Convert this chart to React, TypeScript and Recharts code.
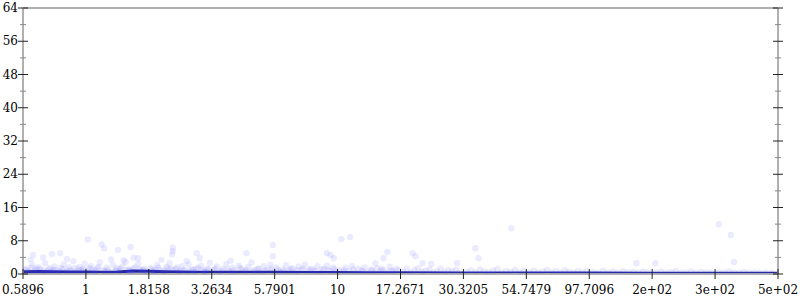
import React from "react";
import { ComposedChart, Scatter, Line, XAxis, YAxis, ReferenceLine } from "recharts";

const xTickLabels = ["0.5896", "1", "1.8158", "3.2634", "5.7901", "10", "17.2671", "30.3205", "54.7479", "97.7096", "2e+02", "3e+02", "5e+02"];
const xTickPositions = [0, 1, 2, 3, 4, 5, 6, 7, 8, 9, 10, 11, 12];
const yTicks = [0, 4, 8, 12, 16, 20, 24, 28, 32, 36, 40, 44, 48, 52, 56, 60, 64];

// scatter cloud: [position along the axis (tick index units), value]
const cloud: [number, number][] = [
  [0.05,1.2],[0.1,0.4],[0.15,2.1],[0.2,0.9],[0.25,1.6],[0.3,0.3],[0.35,2.6],[0.4,1.1],[0.45,0.6],[0.5,1.8],
  [0.55,0.2],[0.6,1.4],[0.65,2.3],[0.7,0.8],[0.75,1.0],[0.8,3.1],[0.85,0.5],[0.9,1.7],[0.95,1.2],[0.98,2.5],
  [0.16,4.6],[0.32,4.0],[0.46,4.8],[0.59,5.0],[0.12,3.4],[0.7,3.6],
  [0.08,0.7],[0.22,1.3],[0.38,0.5],[0.52,1.0],[0.68,0.4],[0.82,1.4],[0.92,0.8],
  [0.03,0.9],[0.13,1.5],[0.18,0.6],[0.28,1.1],[0.33,0.8],[0.43,1.4],[0.48,0.9],[0.58,0.7],[0.63,1.2],[0.73,1.6],[0.78,0.6],[0.88,1.1],[0.97,0.9],
  [1.02,0.7],[1.08,1.9],[1.12,0.3],[1.18,1.3],[1.22,2.8],[1.28,0.9],[1.33,1.5],[1.38,0.4],[1.43,2.2],[1.48,1.0],
  [1.53,0.6],[1.58,1.8],[1.63,2.9],[1.68,1.1],[1.73,0.5],[1.78,1.6],[1.83,2.4],[1.88,0.8],[1.93,1.3],[1.97,0.2],
  [1.03,8.3],[1.25,7.1],[1.29,6.2],[1.51,5.8],[1.71,6.5],[1.76,4.0],[1.83,3.8],[1.4,3.5],[1.6,3.3],
  [1.1,1.1],[1.3,0.6],[1.5,1.4],[1.7,0.8],[1.9,1.0],
  [1.05,1.4],[1.15,0.8],[1.2,1.7],[1.35,1.0],[1.45,0.7],[1.55,1.2],[1.65,0.9],[1.75,1.3],[1.85,1.1],[1.95,0.7],
  [2.03,1.4],[2.08,0.6],[2.13,2.2],[2.18,1.0],[2.23,0.3],[2.28,1.7],[2.33,2.6],[2.38,0.9],[2.43,1.2],[2.48,0.5],
  [2.53,1.9],[2.58,0.8],[2.63,2.3],[2.68,1.1],[2.73,0.4],[2.78,1.5],[2.83,2.0],[2.88,0.7],[2.93,1.3],[2.97,2.7],
  [2.38,6.3],[2.38,5.5],[2.37,4.7],[2.76,5.0],[2.81,3.8],[2.2,3.4],[2.6,3.1],
  [2.1,0.9],[2.3,1.2],[2.5,0.7],[2.7,1.0],[2.9,0.5],
  [2.05,1.1],[2.15,1.5],[2.25,0.8],[2.35,1.3],[2.45,1.6],[2.55,1.0],[2.65,0.6],[2.75,1.2],[2.85,0.9],[2.95,1.1],
  [3.03,0.9],[3.08,1.8],[3.13,0.4],[3.18,1.2],[3.23,2.4],[3.28,0.7],[3.33,1.5],[3.38,0.3],[3.43,2.0],[3.48,1.1],
  [3.53,0.6],[3.58,1.7],[3.63,2.8],[3.68,0.9],[3.73,1.3],[3.78,0.5],[3.83,1.9],[3.88,1.0],[3.93,2.2],[3.97,0.6],
  [3.55,5.0],[3.97,7.0],[3.97,4.3],[3.3,3.2],
  [3.05,1.3],[3.15,0.8],[3.25,1.1],[3.35,0.9],[3.45,1.4],[3.55,1.0],[3.65,0.7],[3.75,1.2],[3.85,0.8],[3.95,1.3],
  [4.03,1.6],[4.08,0.5],[4.13,1.1],[4.18,2.1],[4.23,0.8],[4.28,1.4],[4.33,0.3],[4.38,1.8],[4.43,1.0],[4.48,2.3],
  [4.53,0.6],[4.58,1.3],[4.63,0.9],[4.68,1.9],[4.73,0.4],[4.78,1.2],[4.83,2.0],[4.88,0.7],[4.93,1.5],[4.97,0.5],
  [4.83,5.0],[4.89,4.6],[4.94,3.8],[5.06,8.4],[5.2,8.9],
  [4.05,1.0],[4.15,0.7],[4.25,1.2],[4.35,0.9],[4.45,1.3],[4.55,1.0],[4.65,0.6],[4.75,1.1],[4.85,0.9],[4.95,1.2],
  [5.03,1.0],[5.08,0.4],[5.13,1.5],[5.18,0.7],[5.23,1.9],[5.28,0.3],[5.33,1.2],[5.38,0.8],[5.43,1.6],[5.48,0.5],
  [5.53,1.1],[5.58,0.3],[5.63,1.4],[5.68,0.7],[5.73,1.0],[5.78,0.4],[5.83,1.7],[5.88,0.6],[5.93,1.2],[5.97,0.9],
  [5.79,5.3],[5.73,3.8],[5.6,2.6],
  [5.1,0.9],[5.25,1.1],[5.4,0.6],[5.55,0.9],[5.7,1.2],[5.85,0.8],
  [6.04,0.6],[6.1,1.2],[6.16,0.3],[6.22,0.9],[6.28,1.4],[6.34,0.5],[6.4,0.8],[6.46,1.1],[6.52,0.3],[6.58,0.7],
  [6.64,1.3],[6.7,0.4],[6.76,0.9],[6.82,0.6],[6.88,1.0],[6.94,0.3],
  [6.19,5.0],[6.24,4.3],[6.35,2.6],[6.49,2.4],[6.9,2.6],
  [7.05,0.5],[7.12,0.9],[7.19,0.3],[7.26,1.1],[7.33,0.6],[7.4,0.4],[7.47,0.8],[7.54,1.2],[7.61,0.3],[7.68,0.7],
  [7.75,0.5],[7.82,1.0],[7.89,0.4],[7.96,0.7],
  [7.76,11.0],[7.19,6.2],[7.24,3.8],
  [8.05,0.4],[8.12,0.8],[8.19,0.3],[8.26,0.6],[8.33,1.0],[8.4,0.4],[8.47,0.7],[8.54,0.3],[8.61,0.9],[8.68,0.5],
  [8.75,0.3],[8.82,0.7],[8.89,0.4],[8.96,0.6],
  [9.06,0.5],[9.14,0.3],[9.22,0.8],[9.3,0.4],[9.38,0.6],[9.46,0.3],[9.54,0.7],[9.62,0.4],[9.7,0.5],[9.78,0.3],
  [9.86,0.6],[9.94,0.4],[9.75,2.6],[10.05,2.6],
  [10.06,0.4],[10.14,0.6],[10.22,0.3],[10.3,0.5],[10.38,0.7],[10.46,0.3],[10.54,0.4],[10.62,0.6],[10.7,0.3],[10.78,0.5],
  [10.86,0.4],[10.94,0.3],
  [11.06,0.4],[11.14,0.3],[11.22,0.6],[11.3,0.4],[11.38,0.3],[11.46,0.5],[11.54,0.3],[11.62,0.4],[11.7,0.3],[11.8,0.4],
  [11.9,0.3],[11.06,12.0],[11.25,9.4],[11.3,2.9],
];

const meanX = [0, 0.25, 0.5, 0.75, 1, 1.25, 1.5, 1.75, 2, 2.25, 2.5, 2.75, 3, 3.5, 4, 4.5, 5, 5.5, 6, 7, 8, 9, 10, 11, 12];
const meanY = [0.55, 0.6, 0.55, 0.5, 0.5, 0.45, 0.5, 0.7, 0.65, 0.55, 0.5, 0.45, 0.4, 0.45, 0.4, 0.35, 0.35, 0.3, 0.3, 0.27, 0.25, 0.22, 0.2, 0.18, 0.18];

const cloudData = cloud.map(([x, y]) => ({ x, y }));
const meanData = meanX.map((x, i) => ({ x, y: meanY[i] }));

const FONT = "DejaVu Serif";

const LeftTick = (props: any) => {
  const { x, y, payload } = props;
  const major = payload.value % 8 === 0;
  return (
    <g>
      {major ? (
        <line x1={x - 5} x2={x + 5} y1={y} y2={y} stroke="#222" strokeWidth={1} />
      ) : (
        <line x1={x - 3} x2={x + 3} y1={y} y2={y} stroke="#888" strokeWidth={1} />
      )}
      {major && (
        <text x={x - 5} y={y} textAnchor="end" dominantBaseline="central" fontSize={12} fontFamily={FONT} fill="#000">
          {payload.value}
        </text>
      )}
    </g>
  );
};

const RightTick = (props: any) => {
  const { x, y, payload } = props;
  const major = payload.value % 8 === 0;
  return major ? (
    <line x1={x - 5} x2={x + 5} y1={y} y2={y} stroke="#222" strokeWidth={1} />
  ) : (
    <line x1={x - 3} x2={x + 3} y1={y} y2={y} stroke="#888" strokeWidth={1} />
  );
};

const BottomTick = (props: any) => {
  const { x, y, payload, index } = props;
  return (
    <g>
      <line x1={x} x2={x} y1={y - 5} y2={y + 5} stroke="#222" strokeWidth={1} />
      <text x={x} y={y + 16} textAnchor="middle" dominantBaseline="central" fontSize={12} fontFamily={FONT} fill="#000">
        {xTickLabels[index] ?? ""}
      </text>
    </g>
  );
};

const Dot = (p: any) => (
  <circle cx={p.cx} cy={p.cy} r={3.2} fill="#4848ff" fillOpacity={0.11} stroke="none" />
);

export default function App() {
  return (
    <div style={{ position: "absolute", left: 0, top: 0, width: 800, height: 300, background: "#fff" }}>
      <ComposedChart width={800} height={300} margin={{ top: 8, right: 0, bottom: 0, left: 0 }}>
        <XAxis
          dataKey="x"
          type="number"
          domain={[0, 12]}
          ticks={xTickPositions}
          interval={0}
          height={26}
          tickSize={0}
          tickMargin={0}
          tickLine={false}
          axisLine={{ stroke: "#b0b0b0", strokeWidth: 2 }}
          tick={<BottomTick />}
          allowDataOverflow
        />
        <YAxis
          yAxisId="left"
          type="number"
          domain={[0, 64]}
          ticks={yTicks}
          interval={0}
          width={23}
          tickSize={0}
          tickMargin={0}
          tickLine={false}
          axisLine={{ stroke: "#b0b0b0", strokeWidth: 2 }}
          tick={<LeftTick />}
          allowDataOverflow
        />
        <YAxis
          yAxisId="right"
          orientation="right"
          type="number"
          domain={[0, 64]}
          ticks={yTicks}
          interval={0}
          width={22}
          tickSize={0}
          tickMargin={0}
          tickLine={false}
          axisLine={{ stroke: "#b0b0b0", strokeWidth: 2 }}
          tick={<RightTick />}
          allowDataOverflow
        />
        <ReferenceLine yAxisId="left" y={64} stroke="#b0b0b0" strokeWidth={2} />
        <Scatter yAxisId="left" data={cloudData} dataKey="y" shape={<Dot />} isAnimationActive={false} />
        <Line
          yAxisId="left"
          data={meanData}
          dataKey="y"
          type="linear"
          dot={false}
          stroke="#24249c"
          strokeWidth={3}
          isAnimationActive={false}
        />
      </ComposedChart>
    </div>
  );
}
